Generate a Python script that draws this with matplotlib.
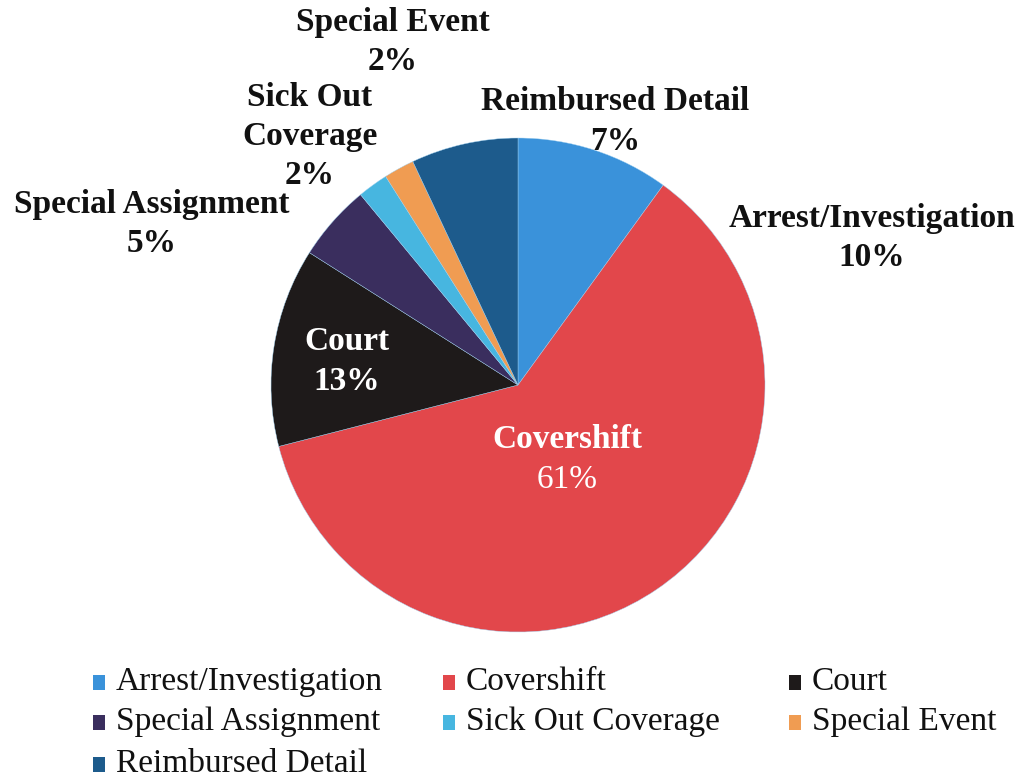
import matplotlib
matplotlib.use("Agg")
import matplotlib.pyplot as plt
from matplotlib.patches import Rectangle

# Overtime hours share by category
categories = ["Arrest/Investigation", "Covershift", "Court", "Special Assignment",
              "Sick Out Coverage", "Special Event", "Reimbursed Detail"]
shares = [10, 61, 13, 5, 2, 2, 7]
colors = ["#3A92DA", "#E2474B", "#1E1A1A", "#3A2E5E", "#47B6E0", "#F09C52", "#1D5B8C"]

W, H = 1021, 784
fig = plt.figure(figsize=(W / 100, H / 100), dpi=100)
fig.patch.set_facecolor("white")

serif = ["Liberation Serif", "DejaVu Serif"]

# pie placement in pixels
cx, cy, r = 518, 385, 247
ax = fig.add_axes([(cx - r) / W, (H - cy - r) / H, 2 * r / W, 2 * r / H])
wedges, _ = ax.pie(shares, colors=colors, startangle=90, counterclock=False,
                   radius=1.0, wedgeprops=dict(linewidth=0.3, edgecolor="#9FD0F0"))
ax.set_xlim(-1, 1)
ax.set_ylim(-1, 1)
ax.set_aspect("equal")
ax.axis("off")


def ftext(x, y, s, **kw):
    fig.text(x / W, 1 - y / H, s, ha="center", va="center", family=serif,
             fontsize=24, **kw)


def pct(i):
    return f"{shares[i]}%"


# outside labels
ftext(393, 22, "Special Event", weight="bold", color="#111111")
ftext(393, 62, pct(5), weight="bold", color="#111111")
ftext(310, 97, "Sick Out", weight="bold", color="#111111")
ftext(310, 136, "Coverage", weight="bold", color="#111111")
ftext(310, 175, pct(4), weight="bold", color="#111111")
ftext(152, 205, "Special Assignment", weight="bold", color="#111111")
ftext(152, 243, pct(3), weight="bold", color="#111111")
ftext(615, 102, "Reimbursed Detail", weight="bold", color="#111111")
ftext(615, 141, pct(6), weight="bold", color="#111111")
ftext(872, 218, "Arrest/Investigation", weight="bold", color="#111111")
ftext(872, 258, pct(0), weight="bold", color="#111111")

# inside labels
ftext(347, 341, "Court", weight="bold", color="white")
ftext(347, 381, pct(2), weight="bold", color="white")
ftext(567, 440, "Covershift", weight="bold", color="white")
ftext(567, 480, pct(1), color="white")

# legend grid, row-major
col_x = [93, 443, 789]
row_y = [682, 722, 764]
sq_w, sq_h = 12, 15
for i, (name, col) in enumerate(zip(categories, colors)):
    rr, cc = divmod(i, 3)
    x0, y0 = col_x[cc], row_y[rr]
    fig.patches.append(Rectangle((x0 / W, 1 - (y0 + sq_h / 2) / H), sq_w / W, sq_h / H,
                                 transform=fig.transFigure, facecolor=col,
                                 edgecolor="none"))
    fig.text((x0 + sq_w + 11) / W, 1 - y0 / H, name, ha="left", va="center",
             family=serif, fontsize=24, color="#111111")

fig.savefig("out.png", dpi=100, facecolor="white")
